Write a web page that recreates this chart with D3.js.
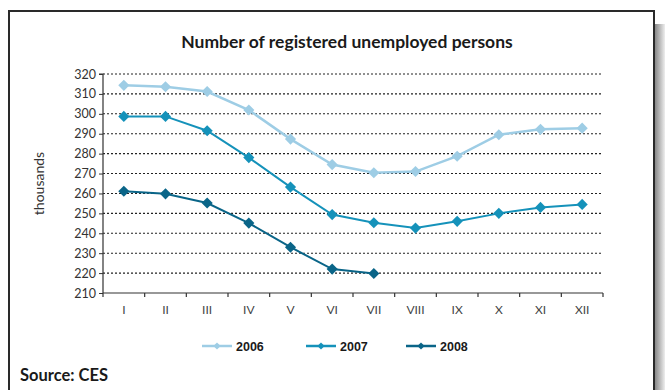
<!DOCTYPE html>
<html><head><meta charset="utf-8">
<script src="https://cdn.jsdelivr.net/npm/d3@7"></script>
<style>
html,body{margin:0;padding:0;background:#fff;}
svg{display:block;}
</style></head>
<body>
<svg id="c" width="665" height="390"></svg>
<script>
const months = ["I","II","III","IV","V","VI","VII","VIII","IX","X","XI","XII"];
const values2006 = [314.3,313.6,311.2,301.9,287.3,274.5,270.4,271.0,278.7,289.5,292.2,292.8];
const values2007 = [298.7,298.7,291.5,278.0,263.2,249.4,245.3,242.6,246.0,250.0,253.0,254.5];
const values2008 = [261.1,259.8,255.2,245.1,233.0,222.0,219.8];
const seriesNames = ["2006","2007","2008"];
const seriesColors = ["#9ecde5","#1592ba","#0a6588"];
const yTicks = [210,220,230,240,250,260,270,280,290,300,310,320];
const titleText = "Number of registered unemployed persons";
const yLabel = "thousands";
const sourceText = "Source: CES";

const svg = d3.select("#c");
const uiFont = "Lato, 'Open Sans', sans-serif";

// shadow + frame
const defs = svg.append("defs");
const g1 = defs.append("linearGradient").attr("id","sh").attr("x1","0").attr("x2","1");
g1.append("stop").attr("offset","0").attr("stop-color","#888");
g1.append("stop").attr("offset","1").attr("stop-color","#eee");
svg.append("rect").attr("x",655).attr("y",24).attr("width",10).attr("height",370).attr("fill","url(#sh)");
svg.append("rect").attr("x",9).attr("y",11).attr("width",645).attr("height",390)
  .attr("fill","#fff").attr("stroke","#2a2a2a").attr("stroke-width",2);

const m = {left:103, right:603, top:74, bottom:293};
const x = d3.scaleBand().domain(months).range([m.left, m.right]);
const y = d3.scaleLinear().domain([210,320]).range([m.bottom, m.top]);

// title
svg.append("text").attr("x",347).attr("y",48).attr("text-anchor","middle")
  .attr("font-family",uiFont).attr("font-weight","bold").attr("font-size",17.5).attr("fill","#1a1a1a")
  .text(titleText);

// gridlines
svg.append("g").selectAll("line").data(yTicks.filter(d=>d>210)).join("line")
  .attr("x1",m.left).attr("x2",m.right).attr("y1",d=>y(d)).attr("y2",d=>y(d))
  .attr("stroke","#222").attr("stroke-width",1.1).attr("stroke-dasharray","2,2");

// y axis
const ya = svg.append("g").attr("transform",`translate(${m.left},0)`)
  .call(d3.axisLeft(y).tickValues(yTicks).tickSize(4).tickPadding(3));
ya.select(".domain").attr("stroke","#333").attr("stroke-width",1.2).attr("d",`M-4,${m.top}H0V${m.bottom}`);
ya.selectAll(".tick line").attr("stroke","#333");
ya.selectAll("text").attr("font-family",uiFont).attr("font-size",12.5).attr("fill","#333");

// x axis
const xa = svg.append("g").attr("transform",`translate(0,${m.bottom})`)
  .call(d3.axisBottom(x).tickSize(0).tickPadding(12));
xa.select(".domain").attr("stroke","#333").attr("stroke-width",1.2).attr("d",`M${m.left},0H${m.right}`);
xa.selectAll("text").attr("font-family",uiFont).attr("font-size",12).attr("fill","#444");
const bounds = months.map(d=>x(d)).concat([m.right]);
svg.append("g").selectAll("line").data(bounds).join("line")
  .attr("x1",d=>d).attr("x2",d=>d).attr("y1",m.bottom).attr("y2",m.bottom+4)
  .attr("stroke","#333").attr("stroke-width",1.2);

// y label
svg.append("text").attr("transform",`translate(44,${(m.top+m.bottom)/2}) rotate(-90)`)
  .attr("text-anchor","middle").attr("font-family",uiFont).attr("font-size",14).attr("fill","#333")
  .text(yLabel);

// series
const allSeries = [values2006, values2007, values2008];
const line = d3.line().x((d,i)=>x(months[i])+x.bandwidth()/2).y(d=>y(d));
const sq = d3.symbol().type(d3.symbolSquare).size(62);
allSeries.forEach((vals,k)=>{
  const g = svg.append("g");
  g.append("path").datum(vals).attr("d",line).attr("fill","none")
    .attr("stroke",seriesColors[k]).attr("stroke-width",k===0?2.5:2);
  g.selectAll("path.pt").data(vals).join("path").attr("class","pt")
    .attr("transform",(d,i)=>`translate(${x(months[i])+x.bandwidth()/2},${y(d)}) rotate(45)`)
    .attr("d",sq).attr("fill",seriesColors[k]);
});

// legend
const legX = [202,306,406];
seriesNames.forEach((n,k)=>{
  const g = svg.append("g").attr("transform",`translate(${legX[k]},346)`);
  g.append("line").attr("x1",0).attr("x2",30).attr("stroke",seriesColors[k]).attr("stroke-width",2.5);
  g.append("path").attr("transform","translate(15,0) rotate(45)").attr("d",d3.symbol().type(d3.symbolSquare).size(26)()).attr("fill",seriesColors[k]);
  g.append("text").attr("x",34).attr("y",4.5).attr("font-family","'Liberation Sans', Arial, sans-serif")
    .attr("font-weight","bold").attr("font-size",12.5).attr("fill","#1a1a1a").text(n);
});

// source
svg.append("text").attr("x",20).attr("y",381).attr("font-family",uiFont).attr("font-weight","bold")
  .attr("font-size",16.5).attr("fill","#1a1a1a").text(sourceText);
</script>
</body></html>
